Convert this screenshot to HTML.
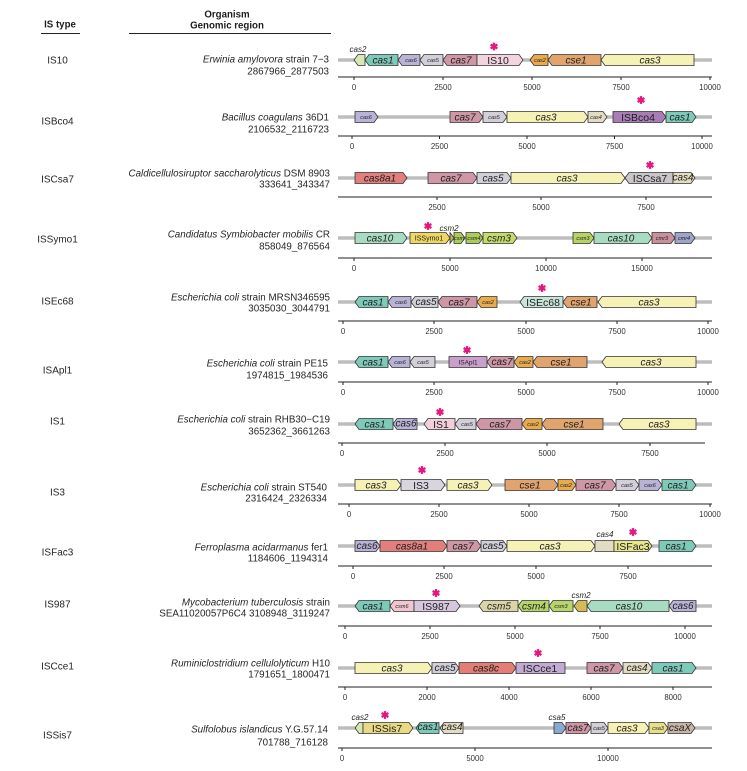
<!DOCTYPE html>
<html><head><meta charset="utf-8"><style>
html,body{margin:0;padding:0;background:#fff;}
svg{display:block;}
text{font-family:"Liberation Sans",Arial,sans-serif;fill:#1e1e1e;}
.g polygon{stroke:#333;stroke-width:0.8;}
.l{font-style:italic;font-size:10px;text-anchor:middle;}
.i{font-size:10.5px;text-anchor:middle;}
.s{font-style:italic;font-size:5.5px;text-anchor:middle;}
.a{font-style:italic;font-size:8px;text-anchor:middle;}
.tk{font-size:7.8px;text-anchor:middle;fill:#333;}
.org{font-size:9.8px;text-anchor:end;fill:#262626;}
.ist{font-size:10px;text-anchor:middle;fill:#262626;}
.trk{stroke:#bdbdbd;stroke-width:3.5;}
.ax{stroke:#222;stroke-width:1;}
</style></head><body>
<svg width="747" height="771" viewBox="0 0 747 771" xmlns="http://www.w3.org/2000/svg">
<defs>
<g id="ast" stroke="#e4187f" stroke-width="2.3" stroke-linecap="butt">
<line x1="0" y1="-3.9" x2="0" y2="3.9"/>
<line x1="-3.4" y1="-1.95" x2="3.4" y2="1.95"/>
<line x1="-3.4" y1="1.95" x2="3.4" y2="-1.95"/>
</g>
</defs>

<!-- headers -->
<text x="60" y="27.5" font-weight="bold" font-size="9.7" text-anchor="middle">IS type</text>
<line x1="41" y1="33.5" x2="80" y2="33.5" stroke="#222" stroke-width="1"/>
<text x="227" y="17.5" font-weight="bold" font-size="9.7" text-anchor="middle">Organism</text>
<text x="227" y="28.5" font-weight="bold" font-size="9.7" text-anchor="middle">Genomic region</text>
<line x1="129" y1="33.5" x2="331" y2="33.5" stroke="#222" stroke-width="1"/>

<!-- IS type labels -->
<text class="ist" x="57.5" y="63.5">IS10</text>
<text class="ist" x="57.5" y="124.5">ISBco4</text>
<text class="ist" x="57.5" y="182.5">ISCsa7</text>
<text class="ist" x="57.5" y="242.5">ISSymo1</text>
<text class="ist" x="57.5" y="304.5">ISEc68</text>
<text class="ist" x="57.5" y="373.5">ISApl1</text>
<text class="ist" x="57.5" y="424.5">IS1</text>
<text class="ist" x="57.5" y="495.5">IS3</text>
<text class="ist" x="57.5" y="555.5">ISFac3</text>
<text class="ist" x="57.5" y="607.5">IS987</text>
<text class="ist" x="57.5" y="669.5">ISCce1</text>
<text class="ist" x="57.5" y="738.5">ISSis7</text>

<!-- organism labels -->
<text class="org" x="329" y="62.5"><tspan font-style="italic">Erwinia amylovora</tspan> strain 7−3</text>
<text class="org" x="329" y="74.5">2867966_2877503</text>
<text class="org" x="329" y="120.5"><tspan font-style="italic">Bacillus coagulans</tspan> 36D1</text>
<text class="org" x="329" y="132.5">2106532_2116723</text>
<text class="org" x="330" y="176.5"><tspan font-style="italic">Caldicellulosiruptor saccharolyticus</tspan> DSM 8903</text>
<text class="org" x="330" y="187.5">333641_343347</text>
<text class="org" x="330" y="237.5"><tspan font-style="italic">Candidatus Symbiobacter mobilis</tspan> CR</text>
<text class="org" x="330" y="249.5">858049_876564</text>
<text class="org" x="330" y="300.5"><tspan font-style="italic">Escherichia coli</tspan> strain MRSN346595</text>
<text class="org" x="330" y="311.5">3035030_3044791</text>
<text class="org" x="328" y="366.5"><tspan font-style="italic">Escherichia coli</tspan> strain PE15</text>
<text class="org" x="328" y="378.5">1974815_1984536</text>
<text class="org" x="330" y="422.5"><tspan font-style="italic">Escherichia coli</tspan> strain RHB30−C19</text>
<text class="org" x="330" y="434.5">3652362_3661263</text>
<text class="org" x="327" y="490.5"><tspan font-style="italic">Escherichia coli</tspan> strain ST540</text>
<text class="org" x="327" y="501.5">2316424_2326334</text>
<text class="org" x="328" y="550.5"><tspan font-style="italic">Ferroplasma acidarmanus</tspan> fer1</text>
<text class="org" x="328" y="561.5">1184606_1194314</text>
<text class="org" x="330" y="605.5"><tspan font-style="italic">Mycobacterium tuberculosis</tspan> strain</text>
<text class="org" x="330" y="616.5">SEA11020057P6C4 3108948_3119247</text>
<text class="org" x="330" y="666.5"><tspan font-style="italic">Ruminiclostridium cellulolyticum</tspan> H10</text>
<text class="org" x="330" y="677.5">1791651_1800471</text>
<text class="org" x="328" y="732.5"><tspan font-style="italic">Sulfolobus islandicus</tspan> Y.G.57.14</text>
<text class="org" x="328" y="745.5">701788_716128</text>

<!-- tracks -->
<g class="trk">
<line x1="338" y1="60" x2="712" y2="60"/>
<line x1="338" y1="117" x2="712" y2="117"/>
<line x1="338" y1="178" x2="712" y2="178"/>
<line x1="338" y1="238" x2="712" y2="238"/>
<line x1="338" y1="302" x2="712" y2="302"/>
<line x1="338" y1="362" x2="712" y2="362"/>
<line x1="338" y1="424" x2="712" y2="424"/>
<line x1="338" y1="485" x2="712" y2="485"/>
<line x1="338" y1="546" x2="712" y2="546"/>
<line x1="338" y1="606" x2="712" y2="606"/>
<line x1="338" y1="668" x2="712" y2="668"/>
<line x1="338" y1="728" x2="712" y2="728"/>
</g>

<!-- axes -->
<g class="ax">
<line x1="338" y1="77" x2="712" y2="77"/>
<line x1="354" y1="77" x2="354" y2="80"/><line x1="443" y1="77" x2="443" y2="80"/><line x1="532" y1="77" x2="532" y2="80"/><line x1="621" y1="77" x2="621" y2="80"/><line x1="710" y1="77" x2="710" y2="80"/>
<line x1="338" y1="136" x2="712" y2="136"/>
<line x1="352" y1="136" x2="352" y2="139"/><line x1="439.5" y1="136" x2="439.5" y2="139"/><line x1="527" y1="136" x2="527" y2="139"/><line x1="614.5" y1="136" x2="614.5" y2="139"/><line x1="702" y1="136" x2="702" y2="139"/>
<line x1="338" y1="197" x2="712" y2="197"/>
<line x1="437" y1="197" x2="437" y2="200"/><line x1="541" y1="197" x2="541" y2="200"/><line x1="646" y1="197" x2="646" y2="200"/>
<line x1="338" y1="258" x2="712" y2="258"/>
<line x1="354" y1="258" x2="354" y2="261"/><line x1="450" y1="258" x2="450" y2="261"/><line x1="546" y1="258" x2="546" y2="261"/><line x1="642" y1="258" x2="642" y2="261"/>
<line x1="338" y1="321" x2="712" y2="321"/>
<line x1="343" y1="321" x2="343" y2="324"/><line x1="434" y1="321" x2="434" y2="324"/><line x1="526" y1="321" x2="526" y2="324"/><line x1="617" y1="321" x2="617" y2="324"/><line x1="708" y1="321" x2="708" y2="324"/>
<line x1="338" y1="382" x2="712" y2="382"/>
<line x1="343" y1="382" x2="343" y2="385"/><line x1="434" y1="382" x2="434" y2="385"/><line x1="526" y1="382" x2="526" y2="385"/><line x1="617" y1="382" x2="617" y2="385"/><line x1="708" y1="382" x2="708" y2="385"/>
<line x1="338" y1="443" x2="705" y2="443"/>
<line x1="342" y1="443" x2="342" y2="446"/><line x1="445" y1="443" x2="445" y2="446"/><line x1="547" y1="443" x2="547" y2="446"/><line x1="650" y1="443" x2="650" y2="446"/>
<line x1="338" y1="504" x2="712" y2="504"/>
<line x1="349" y1="504" x2="349" y2="507"/><line x1="439" y1="504" x2="439" y2="507"/><line x1="529" y1="504" x2="529" y2="507"/><line x1="619" y1="504" x2="619" y2="507"/><line x1="710" y1="504" x2="710" y2="507"/>
<line x1="338" y1="566" x2="712" y2="566"/>
<line x1="353" y1="566" x2="353" y2="569"/><line x1="444" y1="566" x2="444" y2="569"/><line x1="536" y1="566" x2="536" y2="569"/><line x1="628" y1="566" x2="628" y2="569"/>
<line x1="338" y1="626" x2="712" y2="626"/>
<line x1="345" y1="626" x2="345" y2="629"/><line x1="430" y1="626" x2="430" y2="629"/><line x1="515" y1="626" x2="515" y2="629"/><line x1="600" y1="626" x2="600" y2="629"/><line x1="685" y1="626" x2="685" y2="629"/>
<line x1="338" y1="687" x2="712" y2="687"/>
<line x1="345" y1="687" x2="345" y2="690"/><line x1="427" y1="687" x2="427" y2="690"/><line x1="509" y1="687" x2="509" y2="690"/><line x1="591" y1="687" x2="591" y2="690"/><line x1="673" y1="687" x2="673" y2="690"/>
<line x1="338" y1="748" x2="712" y2="748"/>
<line x1="342" y1="748" x2="342" y2="751"/><line x1="475" y1="748" x2="475" y2="751"/><line x1="608" y1="748" x2="608" y2="751"/>
</g>

<!-- tick labels -->
<g>
<text class="tk" x="354" y="90">0</text><text class="tk" x="443" y="90">2500</text><text class="tk" x="532" y="90">5000</text><text class="tk" x="621" y="90">7500</text><text class="tk" x="710" y="90">10000</text>
<text class="tk" x="352" y="149">0</text><text class="tk" x="439.5" y="149">2500</text><text class="tk" x="527" y="149">5000</text><text class="tk" x="614.5" y="149">7500</text><text class="tk" x="702" y="149">10000</text>
<text class="tk" x="437" y="210">2500</text><text class="tk" x="541" y="210">5000</text><text class="tk" x="646" y="210">7500</text>
<text class="tk" x="354" y="271">0</text><text class="tk" x="450" y="271">5000</text><text class="tk" x="546" y="271">10000</text><text class="tk" x="642" y="271">15000</text>
<text class="tk" x="343" y="334">0</text><text class="tk" x="434" y="334">2500</text><text class="tk" x="526" y="334">5000</text><text class="tk" x="617" y="334">7500</text><text class="tk" x="708" y="334">10000</text>
<text class="tk" x="343" y="395">0</text><text class="tk" x="434" y="395">2500</text><text class="tk" x="526" y="395">5000</text><text class="tk" x="617" y="395">7500</text><text class="tk" x="708" y="395">10000</text>
<text class="tk" x="342" y="456">0</text><text class="tk" x="445" y="456">2500</text><text class="tk" x="547" y="456">5000</text><text class="tk" x="650" y="456">7500</text>
<text class="tk" x="349" y="517">0</text><text class="tk" x="439" y="517">2500</text><text class="tk" x="529" y="517">5000</text><text class="tk" x="619" y="517">7500</text><text class="tk" x="710" y="517">10000</text>
<text class="tk" x="353" y="579">0</text><text class="tk" x="444" y="579">2500</text><text class="tk" x="536" y="579">5000</text><text class="tk" x="628" y="579">7500</text>
<text class="tk" x="345" y="639">0</text><text class="tk" x="430" y="639">2500</text><text class="tk" x="515" y="639">5000</text><text class="tk" x="600" y="639">7500</text><text class="tk" x="685" y="639">10000</text>
<text class="tk" x="345" y="700">0</text><text class="tk" x="427" y="700">2000</text><text class="tk" x="509" y="700">4000</text><text class="tk" x="591" y="700">6000</text><text class="tk" x="673" y="700">8000</text>
<text class="tk" x="342" y="761">0</text><text class="tk" x="475" y="761">5000</text><text class="tk" x="608" y="761">10000</text>
</g>

<!-- genes -->
<g class="g">
<!-- R1 -->
<polygon points="354,60 358,54.5 365,54.5 365,65.5 358,65.5" fill="#d7e8b3"/>
<polygon points="365,60 369,54.5 398,54.5 398,65.5 369,65.5" fill="#7ecab8"/>
<polygon points="398,60 402,54.5 420,54.5 420,65.5 402,65.5" fill="#b9b3d7"/>
<polygon points="420,60 424,54.5 443,54.5 443,65.5 424,65.5" fill="#d2cfd9"/>
<polygon points="443,60 447,54.5 477,54.5 477,65.5 447,65.5" fill="#cf96a6"/>
<polygon points="477,54.5 519,54.5 523,60 519,65.5 477,65.5" fill="#f3d3df"/>
<polygon points="530,60 534,54.5 548,54.5 548,65.5 534,65.5" fill="#e8aa4c"/>
<polygon points="548,60 552,54.5 601,54.5 601,65.5 552,65.5" fill="#e0a46c"/>
<polygon points="601,60 605,54.5 694,54.5 694,65.5 605,65.5" fill="#f6f2b5"/>
<!-- R2 -->
<polygon points="355,111.5 374,111.5 378,117 374,122.5 355,122.5" fill="#b9b3d7"/>
<polygon points="450,111.5 479,111.5 483,117 479,122.5 450,122.5" fill="#cf96a6"/>
<polygon points="483,111.5 503,111.5 507,117 503,122.5 483,122.5" fill="#d2cfd9"/>
<polygon points="507,111.5 584,111.5 588,117 584,122.5 507,122.5" fill="#f6f2b5"/>
<polygon points="588,111.5 603,111.5 607,117 603,122.5 588,122.5" fill="#e2ddc2"/>
<polygon points="613,111.5 662,111.5 666,117 662,122.5 613,122.5" fill="#a97cb6"/>
<polygon points="666,111.5 692,111.5 696,117 692,122.5 666,122.5" fill="#7ecab8"/>
<!-- R3 -->
<polygon points="355,172.5 403,172.5 407,178 403,183.5 355,183.5" fill="#e27e7c"/>
<polygon points="428,172.5 473,172.5 477,178 473,183.5 428,183.5" fill="#cf96a6"/>
<polygon points="477,172.5 507,172.5 511,178 507,183.5 477,183.5" fill="#d2cfd9"/>
<polygon points="511,172.5 621,172.5 625,178 621,183.5 511,183.5" fill="#f6f2b5"/>
<polygon points="625,178 629,172.5 673,172.5 673,183.5 629,183.5" fill="#c9c5c9"/>
<polygon points="673,172.5 691,172.5 695,178 691,183.5 673,183.5" fill="#e2ddc2"/>
<!-- R4 -->
<polygon points="355,232.5 403,232.5 407,238 403,243.5 355,243.5" fill="#a8dcc2"/>
<polygon points="410,232.5 446,232.5 450,238 446,243.5 410,243.5" fill="#efd763"/>
<polygon points="450,232.5 454,238 450,243.5" fill="#c9b84a"/>
<polygon points="454,232.5 461,232.5 465,238 461,243.5 454,243.5" fill="#a9cc5a"/>
<polygon points="466,232.5 479,232.5 483,238 479,243.5 466,243.5" fill="#a9cc5a"/>
<polygon points="483,232.5 513,232.5 517,238 513,243.5 483,243.5" fill="#c3dc6c"/>
<polygon points="573,232.5 590,232.5 594,238 590,243.5 573,243.5" fill="#b7d364"/>
<polygon points="594,232.5 648,232.5 652,238 648,243.5 594,243.5" fill="#a8dcc2"/>
<polygon points="652,232.5 671,232.5 675,238 671,243.5 652,243.5" fill="#c88f9d"/>
<polygon points="675,232.5 691,232.5 695,238 691,243.5 675,243.5" fill="#9da5c8"/>
<!-- R5 -->
<polygon points="355,302 359,296.5 388,296.5 388,307.5 359,307.5" fill="#7ecab8"/>
<polygon points="388,302 392,296.5 411,296.5 411,307.5 392,307.5" fill="#b9b3d7"/>
<polygon points="411,302 415,296.5 438,296.5 438,307.5 415,307.5" fill="#d2cfd9"/>
<polygon points="438,302 442,296.5 477,296.5 477,307.5 442,307.5" fill="#cf96a6"/>
<polygon points="477,302 481,296.5 497,296.5 497,307.5 481,307.5" fill="#e8aa4c"/>
<polygon points="520,302 524,296.5 563,296.5 563,307.5 524,307.5" fill="#c7e5d9"/>
<polygon points="563,302 567,296.5 597,296.5 597,307.5 567,307.5" fill="#e0a46c"/>
<polygon points="598,302 602,296.5 696,296.5 696,307.5 602,307.5" fill="#f6f2b5"/>
<!-- R6 -->
<polygon points="355,362 359,356.5 388,356.5 388,367.5 359,367.5" fill="#7ecab8"/>
<polygon points="388,362 392,356.5 410,356.5 410,367.5 392,367.5" fill="#b9b3d7"/>
<polygon points="410,362 414,356.5 435,356.5 435,367.5 414,367.5" fill="#d2cfd9"/>
<polygon points="449,356.5 487,356.5 487,367.5 449,367.5" fill="#c99fcb"/>
<polygon points="487,362 491,356.5 514,356.5 514,367.5 491,367.5" fill="#cf96a6"/>
<polygon points="514,362 518,356.5 533,356.5 533,367.5 518,367.5" fill="#e8aa4c"/>
<polygon points="533,362 537,356.5 587,356.5 587,367.5 537,367.5" fill="#e0a46c"/>
<polygon points="602,362 606,356.5 696,356.5 696,367.5 606,367.5" fill="#f6f2b5"/>
<!-- R7 -->
<polygon points="355,424 359,418.5 393,418.5 393,429.5 359,429.5" fill="#7ecab8"/>
<polygon points="393,424 397,418.5 417,418.5 417,429.5 397,429.5" fill="#b9b3d7"/>
<polygon points="424,424 428,418.5 455,418.5 455,429.5 428,429.5" fill="#f3cfdc"/>
<polygon points="455,424 459,418.5 476,418.5 476,429.5 459,429.5" fill="#d2cfd9"/>
<polygon points="476,424 480,418.5 522,418.5 522,429.5 480,429.5" fill="#cf96a6"/>
<polygon points="522,424 526,418.5 542,418.5 542,429.5 526,429.5" fill="#e8aa4c"/>
<polygon points="542,424 546,418.5 603,418.5 603,429.5 546,429.5" fill="#e0a46c"/>
<polygon points="619,424 623,418.5 696,418.5 696,429.5 623,429.5" fill="#f6f2b5"/>
<!-- R8 -->
<polygon points="355,479.5 397,479.5 401,485 397,490.5 355,490.5" fill="#f6f2b5"/>
<polygon points="401,479.5 441,479.5 445,485 441,490.5 401,490.5" fill="#d9d5df"/>
<polygon points="447,479.5 488,479.5 492,485 488,490.5 447,490.5" fill="#f6f2b5"/>
<polygon points="505,479.5 554,479.5 558,485 554,490.5 505,490.5" fill="#e0a46c"/>
<polygon points="558,479.5 572,479.5 576,485 572,490.5 558,490.5" fill="#e8aa4c"/>
<polygon points="576,479.5 612,479.5 616,485 612,490.5 576,490.5" fill="#cf96a6"/>
<polygon points="616,479.5 635,479.5 639,485 635,490.5 616,490.5" fill="#d2cfd9"/>
<polygon points="639,479.5 658,479.5 662,485 658,490.5 639,490.5" fill="#b9b3d7"/>
<polygon points="662,479.5 692,479.5 696,485 692,490.5 662,490.5" fill="#7ecab8"/>
<!-- R9 -->
<polygon points="355,540.5 376,540.5 380,546 376,551.5 355,551.5" fill="#b9b3d7"/>
<polygon points="380,540.5 443,540.5 447,546 443,551.5 380,551.5" fill="#e27e7c"/>
<polygon points="447,540.5 477,540.5 481,546 477,551.5 447,551.5" fill="#cf96a6"/>
<polygon points="481,540.5 503,540.5 507,546 503,551.5 481,551.5" fill="#d2cfd9"/>
<polygon points="507,540.5 591,540.5 595,546 591,551.5 507,551.5" fill="#f6f2b5"/>
<polygon points="595,540.5 614,540.5 614,551.5 595,551.5" fill="#e2ddc2"/>
<polygon points="614,540.5 648,540.5 652,546 648,551.5 614,551.5" fill="#e6e68c"/>
<polygon points="659,540.5 692,540.5 696,546 692,551.5 659,551.5" fill="#7ecab8"/>
<!-- R10 -->
<polygon points="355,606 359,600.5 390,600.5 390,611.5 359,611.5" fill="#7ecab8"/>
<polygon points="390,606 394,600.5 414,600.5 414,611.5 394,611.5" fill="#f2c6d0"/>
<polygon points="414,600.5 456,600.5 460,606 456,611.5 414,611.5" fill="#d6c6de"/>
<polygon points="479,606 483,600.5 518,600.5 518,611.5 483,611.5" fill="#dbd5a6"/>
<polygon points="518,606 522,600.5 549,600.5 549,611.5 522,611.5" fill="#b7d66a"/>
<polygon points="549,606 553,600.5 573,600.5 573,611.5 553,611.5" fill="#b7d66a"/>
<polygon points="574,606 578,600.5 587,600.5 587,611.5 578,611.5" fill="#d5bb55"/>
<polygon points="587,606 591,600.5 669,600.5 669,611.5 591,611.5" fill="#a8dcc2"/>
<polygon points="669,606 673,600.5 696,600.5 696,611.5 673,611.5" fill="#b9b3d7"/>
<!-- R11 -->
<polygon points="355,662.5 428,662.5 432,668 428,673.5 355,673.5" fill="#f6f2b5"/>
<polygon points="432,662.5 455,662.5 459,668 455,673.5 432,673.5" fill="#d2cfd9"/>
<polygon points="459,662.5 512,662.5 516,668 512,673.5 459,673.5" fill="#e27e76"/>
<polygon points="516,662.5 565,662.5 565,673.5 516,673.5" fill="#c2aad2"/>
<polygon points="587,662.5 619,662.5 623,668 619,673.5 587,673.5" fill="#cf96a6"/>
<polygon points="623,662.5 648,662.5 652,668 648,673.5 623,673.5" fill="#e2ddc2"/>
<polygon points="652,662.5 692,662.5 696,668 692,673.5 652,673.5" fill="#7ecab8"/>
<!-- R12 -->
<polygon points="355,728 359,722.5 363,722.5 363,733.5 359,733.5" fill="#d7e8b3"/>
<polygon points="363,722.5 409,722.5 413,728 409,733.5 363,733.5" fill="#e9d984"/>
<polygon points="416,728 420,722.5 439,722.5 439,733.5 420,733.5" fill="#7ecab8"/>
<polygon points="440,728 444,722.5 463,722.5 463,733.5 444,733.5" fill="#e2ddc2"/>
<polygon points="554,722.5 562,722.5 566,728 562,733.5 554,733.5" fill="#89a9cf"/>
<polygon points="566,722.5 587,722.5 591,728 587,733.5 566,733.5" fill="#cf96a6"/>
<polygon points="591,722.5 604,722.5 608,728 604,733.5 591,733.5" fill="#d2cfd9"/>
<polygon points="608,722.5 645,722.5 649,728 645,733.5 608,733.5" fill="#f6f2b5"/>
<polygon points="649,722.5 664,722.5 668,728 664,733.5 649,733.5" fill="#e8df88"/>
<polygon points="668,722.5 691,722.5 695,728 691,733.5 668,733.5" fill="#c7b5a5"/>
</g>

<!-- gene labels -->
<g>
<!-- R1 -->
<text class="a" x="358" y="52">cas2</text>
<text class="l" x="383" y="63.5">cas1</text>
<text class="s" x="411" y="62">cas6</text>
<text class="s" x="433" y="62">cas5</text>
<text class="l" x="461" y="63.5">cas7</text>
<text class="i" x="498" y="64">IS10</text>
<text class="s" x="540" y="62">cas2</text>
<text class="l" x="576" y="63.5">cse1</text>
<text class="l" x="650" y="63.5">cas3</text>
<!-- R2 -->
<text class="s" x="366" y="119">cas6</text>
<text class="l" x="465" y="120.5">cas7</text>
<text class="s" x="494" y="119">cas5</text>
<text class="l" x="546" y="120.5">cas3</text>
<text class="s" x="596" y="119">cas4</text>
<text class="i" x="638" y="121">ISBco4</text>
<text class="l" x="680" y="120.5">cas1</text>
<!-- R3 -->
<text class="l" x="380" y="181.5">cas8a1</text>
<text class="l" x="451" y="181.5">cas7</text>
<text class="l" x="493" y="181.5">cas5</text>
<text class="l" x="567" y="181.5">cas3</text>
<text class="i" x="650" y="182">ISCsa7</text>
<text class="l" x="683" y="180.5" font-size="6.5">cas4</text>
<!-- R4 -->
<text class="a" x="449" y="231">csm2</text>
<text class="l" x="380" y="241.5">cas10</text>
<text x="429" y="240.5" font-size="7" text-anchor="middle">ISSymo1</text>
<text class="s" x="459" y="240" font-size="4.5">csm</text>
<text class="s" x="474" y="240">csm4</text>
<text class="l" x="499" y="241.5">csm3</text>
<text class="s" x="583" y="240">csm3</text>
<text class="l" x="621" y="241.5">cas10</text>
<text class="s" x="662" y="240">cmr3</text>
<text class="s" x="684" y="240">cmr4</text>
<!-- R5 -->
<text class="l" x="373" y="305.5">cas1</text>
<text class="s" x="401" y="304">cas6</text>
<text class="l" x="426" y="305" font-size="8.5">cas5</text>
<text class="l" x="459" y="305.5">cas7</text>
<text class="s" x="488" y="304">cas2</text>
<text class="i" x="543" y="306">ISEc68</text>
<text class="l" x="581" y="305.5">cse1</text>
<text class="l" x="649" y="305.5">cas3</text>
<!-- R6 -->
<text class="l" x="373" y="365.5">cas1</text>
<text class="s" x="400" y="364">cas6</text>
<text class="s" x="423" y="364">cas5</text>
<text x="468" y="364.5" font-size="6.5" text-anchor="middle">ISApl1</text>
<text class="l" x="502" y="365" font-size="9">cas7</text>
<text class="s" x="525" y="364">cas2</text>
<text class="l" x="561" y="365.5">cse1</text>
<text class="l" x="651" y="365.5">cas3</text>
<!-- R7 -->
<text class="l" x="375" y="427.5">cas1</text>
<text class="l" x="406" y="426.5" font-size="7">cas6</text>
<text class="i" x="441" y="428" font-size="11.5">IS1</text>
<text class="s" x="467" y="426">cas5</text>
<text class="l" x="500" y="427.5">cas7</text>
<text class="s" x="533" y="426">cas2</text>
<text class="l" x="574" y="427.5">cse1</text>
<text class="l" x="659" y="427.5">cas3</text>
<!-- R8 -->
<text class="l" x="376" y="488.5">cas3</text>
<text class="i" x="421" y="489" font-size="11.5">IS3</text>
<text class="l" x="468" y="488.5">cas3</text>
<text class="l" x="530" y="488.5">cse1</text>
<text class="s" x="566" y="487">cas2</text>
<text class="l" x="595" y="488.5">cas7</text>
<text class="s" x="627" y="487">cas5</text>
<text class="s" x="650" y="487">cas6</text>
<text class="l" x="678" y="488.5">cas1</text>
<!-- R9 -->
<text class="l" x="367" y="549" font-size="8.5">cas6</text>
<text class="l" x="412" y="549.5">cas8a1</text>
<text class="l" x="463" y="549.5">cas7</text>
<text class="l" x="493" y="549" font-size="9">cas5</text>
<text class="l" x="550" y="549.5">cas3</text>
<text class="a" x="605" y="537">cas4</text>
<text class="i" x="633" y="550">ISFac3</text>
<text class="l" x="676" y="549.5">cas1</text>
<!-- R10 -->
<text class="l" x="373" y="609.5">cas1</text>
<text class="s" x="402" y="608">csm6</text>
<text class="i" x="436" y="610">IS987</text>
<text class="l" x="499" y="609.5">csm5</text>
<text class="l" x="534" y="609.5">csm4</text>
<text class="s" x="561" y="608">csm3</text>
<text class="a" x="581" y="598">csm2</text>
<text class="l" x="629" y="609.5">cas10</text>
<text class="l" x="683" y="609" font-size="9">cas6</text>
<!-- R11 -->
<text class="l" x="392" y="671.5">cas3</text>
<text class="l" x="445" y="671" font-size="9">cas5</text>
<text class="l" x="486" y="671.5">cas8c</text>
<text class="i" x="540" y="672">ISCce1</text>
<text class="l" x="604" y="671.5">cas7</text>
<text class="l" x="637" y="671" font-size="9">cas4</text>
<text class="l" x="673" y="671.5">cas1</text>
<!-- R12 -->
<text class="a" x="360" y="720">cas2</text>
<text class="i" x="387" y="732">ISSis7</text>
<text class="l" x="428" y="730" font-size="6">cas1</text>
<text class="l" x="452" y="730" font-size="6">cas4</text>
<text class="a" x="557" y="720">csa5</text>
<text class="l" x="578" y="731" font-size="9">cas7</text>
<text class="s" x="599" y="730">cas5</text>
<text class="l" x="627" y="731.5">cas3</text>
<text class="s" x="658" y="730">csa3</text>
<text class="l" x="680" y="731" font-size="9">csaX</text>
</g>

<!-- asterisks -->
<use href="#ast" x="494" y="46.5"/>
<use href="#ast" x="641" y="100"/>
<use href="#ast" x="650" y="165"/>
<use href="#ast" x="428" y="226"/>
<use href="#ast" x="542" y="288"/>
<use href="#ast" x="467" y="350"/>
<use href="#ast" x="440" y="412"/>
<use href="#ast" x="422" y="470"/>
<use href="#ast" x="633" y="532"/>
<use href="#ast" x="436" y="593"/>
<use href="#ast" x="538" y="653"/>
<use href="#ast" x="385" y="715"/>
</svg>
</body></html>
